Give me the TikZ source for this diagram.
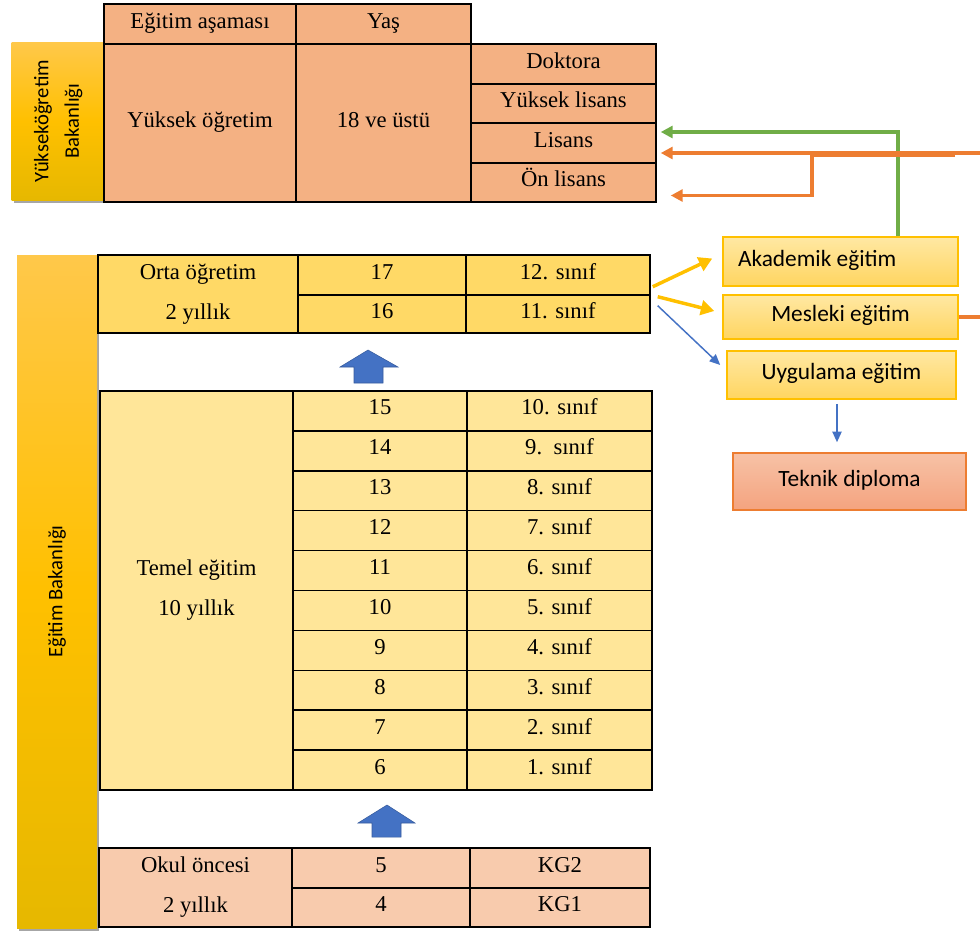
\documentclass[tikz,border=0pt]{standalone}
\usepackage{fontspec}
\setmainfont{Liberation Serif}
\newfontfamily\calfont{Carlito}
\usetikzlibrary{arrows.meta,shadows,calc}
\definecolor{salmon}{HTML}{F4B183}
\definecolor{ortac}{HTML}{FFD966}
\definecolor{temelc}{HTML}{FFE699}
\definecolor{okulc}{HTML}{F8CBAD}
\definecolor{goldc}{HTML}{FFC000}
\definecolor{bluec}{HTML}{4472C4}
\definecolor{greenc}{HTML}{70AD47}
\definecolor{orangec}{HTML}{ED7D31}
\definecolor{barTop}{HTML}{FFC84A}
\definecolor{barBot}{HTML}{E6B800}
\definecolor{boxTop}{HTML}{FFE8A3}
\definecolor{boxBot}{HTML}{FFD560}
\definecolor{tekTop}{HTML}{F7C2A6}
\definecolor{tekBot}{HTML}{F4A37F}
\newcommand\tcell[7]{\node[cellbox,#1,minimum width={(#4-#2)*0.75pt},minimum height={(#5-#3)*0.75pt}] (#6) at ({(#2+#4)/2},{(#3+#5)/2}) {#7};}
\tikzset{
  cellbox/.style={draw=black, line width=1.1pt, inner sep=0pt, align=center,
    font=\fontsize{17}{30}\selectfont},
  oneline/.style={text height=12pt, text depth=6pt},
  barbox/.style={inner sep=0pt, top color=barTop, bottom color=barBot, middle color=goldc,
    drop shadow={shadow xshift=1.5pt, shadow yshift=-2pt, opacity=0.35, fill=black},
    font=\calfont\fontsize{15.5}{23}\selectfont},
  rbox/.style={draw=goldc, line width=1.2pt, inner sep=0pt, top color=boxTop, bottom color=boxBot,
    font=\calfont\fontsize{17.5}{20}\selectfont, text height=12pt, text depth=5pt},
  tbox/.style={draw=orangec, line width=1.2pt, inner sep=0pt, top color=tekTop, bottom color=tekBot,
    font=\calfont\fontsize{17.5}{20}\selectfont, text height=12pt, text depth=5pt},
  yarrow/.style={draw=goldc, line width=2.6pt, -{Triangle[length=10pt,width=11pt]}},
  barrow/.style={draw=bluec, line width=1.1pt, -{Triangle[length=8pt,width=7pt]}},
  garrow/.style={draw=greenc, line width=2.6pt, -{Triangle[length=9pt,width=9pt]}},
  oarrow/.style={draw=orangec, line width=2.6pt, -{Triangle[length=9pt,width=9pt]}},
  oline/.style={draw=orangec, line width=2.6pt},
  blockarrow/.style={fill=bluec, draw=bluec!80!black, line width=0.4pt}
}
\begin{document}
\begin{tikzpicture}[x=0.75pt,y=-0.75pt]
\useasboundingbox (0,0) rectangle (980,932);

% ministry bars
\node[barbox, minimum width={92*0.75pt}, minimum height={158*0.75pt}] (ykb) at (57.5,121)
  {\rotatebox{90}{\begin{tabular}{@{}c@{}}Yükseköğretim\\Bakanlığı\end{tabular}}};
\node[barbox, minimum width={80*0.75pt}, minimum height={673*0.75pt}] (ebk) at (57,591.5)
  {\rotatebox{90}{Eğitim Bakanlığı}};

% higher education table
\tcell{fill=salmon,oneline}{104}{4}{296}{44}{h1}{Eğitim aşaması}
\tcell{fill=salmon,oneline}{296}{4}{471}{44}{h2}{Yaş}
\tcell{fill=salmon,oneline}{104}{44}{296}{202}{yo}{Yüksek öğretim}
\tcell{fill=salmon,oneline}{296}{44}{471}{202}{ya}{18 ve üstü}
\tcell{fill=salmon,oneline}{471}{44}{656}{84}{dok}{Doktora}
\tcell{fill=salmon,oneline}{471}{84}{656}{123}{yl}{Yüksek lisans}
\tcell{fill=salmon,oneline}{471}{123}{656}{163}{lis}{Lisans}
\tcell{fill=salmon,oneline}{471}{163}{656}{202}{onl}{Ön lisans}

% secondary
\tcell{fill=ortac}{98}{255}{298}{333}{orta}{Orta öğretim\\2 yıllık}
\tcell{fill=ortac,oneline}{298}{255}{466}{295}{o17}{17}
\tcell{fill=ortac,oneline}{466}{255}{650}{295}{o12}{12. sınıf}
\tcell{fill=ortac,oneline}{298}{295}{466}{333}{o16}{16}
\tcell{fill=ortac,oneline}{466}{295}{650}{333}{o11}{11. sınıf}

% basic education
\tcell{fill=temelc}{100}{391}{293}{790}{temel}{Temel eğitim\\10 yıllık}
\foreach \i/\age/\cls in {0/15/10. sınıf,1/14/9.\ \ sınıf,2/13/8. sınıf,3/12/7. sınıf,4/11/6. sınıf,5/10/5. sınıf,6/9/4. sınıf,7/8/3. sınıf,8/7/2. sınıf,9/6/1. sınıf}{
  \pgfmathsetmacro\ya{391+39.9*\i}
  \pgfmathsetmacro\yb{391+39.9*(\i+1)}
  \tcell{fill=temelc,oneline}{293}{\ya}{467}{\yb}{ta\i}{\age}
  \tcell{fill=temelc,oneline}{467}{\ya}{652}{\yb}{tc\i}{\cls}
}

% preschool
\tcell{fill=okulc}{99}{848}{292}{927}{okul}{Okul öncesi\\2 yıllık}
\tcell{fill=okulc,oneline}{292}{848}{470}{888}{k5}{5}
\tcell{fill=okulc,oneline}{470}{848}{650}{888}{kg2}{KG2}
\tcell{fill=okulc,oneline}{292}{888}{470}{927}{k4}{4}
\tcell{fill=okulc,oneline}{470}{888}{650}{927}{kg1}{KG1}

% block arrows
\filldraw[blockarrow] (368,350) -- (398,367) -- (383,367) -- (383,383) -- (354,383) -- (354,367) -- (340,367) -- cycle;
\filldraw[blockarrow] (387,805) -- (415,823) -- (401,823) -- (401,837) -- (372,837) -- (372,823) -- (358,823) -- cycle;

% right boxes
\node[rbox, minimum width={235*0.75pt}, minimum height={49*0.75pt}] (aka) at (840.5,261.5) {Akademik eğitim\hspace*{35pt}};
\node[rbox, minimum width={235*0.75pt}, minimum height={44*0.75pt}] (mes) at (840.5,317) {Mesleki eğitim};
\node[rbox, minimum width={229*0.75pt}, minimum height={48*0.75pt}] (uyg) at (841.5,375) {Uygulama eğitim};
\node[tbox, minimum width={233*0.75pt}, minimum height={57*0.75pt}] (tek) at (849.5,481.5) {Teknik diploma};

% arrows from secondary
\draw[yarrow] ([shift={(2,-9)}]o12.south east) -- ([shift={(-10,-3)}]aka.west);
\draw[yarrow] ([shift={(7,1)}]o12.south east) -- ([shift={(-8,-6)}]mes.west);
\draw[barrow] ([shift={(7,10)}]o12.south east) -- ([shift={(-6,-10)}]uyg.west);
\draw[barrow] ([shift={(-4.5,4)}]uyg.south) -- ([shift={(-12.5,-10)}]tek.north);

% green and orange connectors
\draw[garrow] ([xshift={57.5*0.75pt}]aka.north) |- ([shift={(4,-11)}]lis.east);
\coordinate (oR) at (980,153);
\coordinate (ob) at (812,153);
\draw[oarrow] (oR) -- ([shift={(4,10)}]lis.east);
\draw[oline] (955,155.5) -- (ob |- 0,155.5);
\draw[oarrow] (ob) |- ([shift={(14,13)}]onl.east);
\coordinate (oR2) at (980,317);
\draw[oline] (mes.east) -- (oR2);
\end{tikzpicture}
\end{document}
